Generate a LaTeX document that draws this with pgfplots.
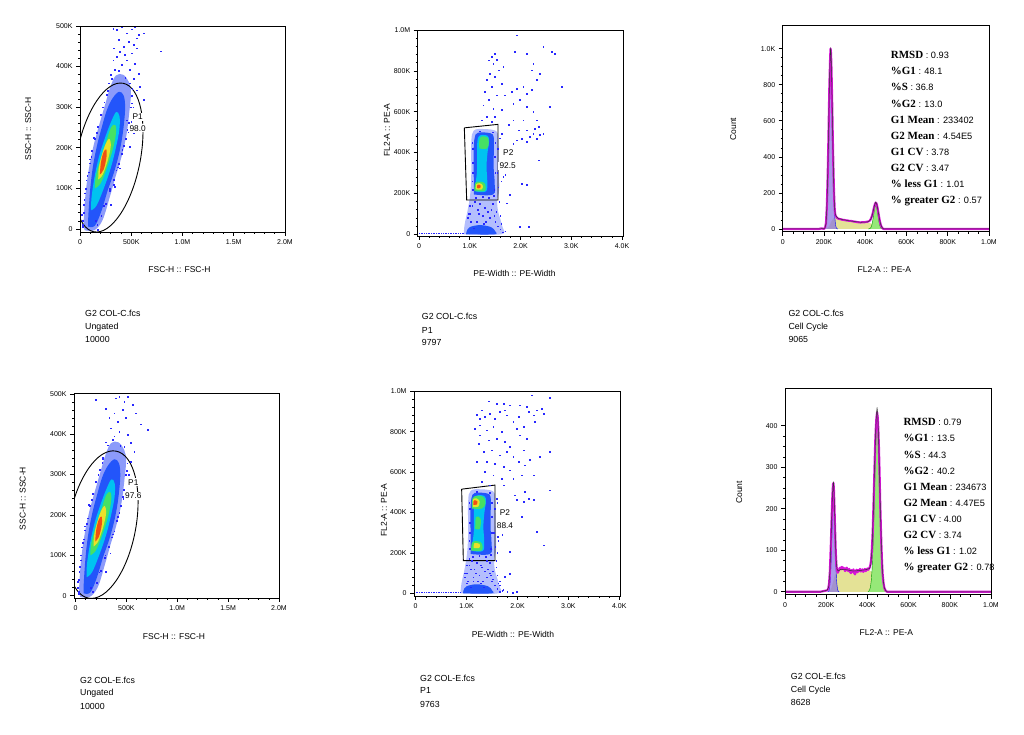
\documentclass[border=0pt]{standalone}
\usepackage{fontspec}
\setmainfont{Liberation Sans}
\newfontfamily\tnr{Liberation Serif}
\usepackage{pgfplots}
\pgfplotsset{compat=1.18}
\usepackage{pgfplotstable}

\definecolor{jsp}{RGB}{140,155,250}
\definecolor{jsq}{RGB}{180,190,253}
\definecolor{jb}{RGB}{35,85,250}
\definecolor{jcy}{RGB}{0,195,240}
\definecolor{jgr}{RGB}{70,225,100}
\definecolor{jye}{RGB}{235,225,40}
\definecolor{jre}{RGB}{240,80,20}
\definecolor{jdot}{RGB}{40,40,255}
\definecolor{hmag}{RGB}{215,20,215}
\definecolor{hg1}{RGB}{140,120,225}
\definecolor{hs}{RGB}{228,226,150}
\definecolor{hg2}{RGB}{150,232,120}

\pgfplotsset{
 fj/.style={scale only axis, anchor=south west, axis line style={line width=0.8pt, black},
  tick align=outside, tick pos=left, major tick length=4pt, minor tick length=2pt,
  tick style={black, line width=0.6pt},
  ticklabel style={font=\fontsize{7}{8}\selectfont},
  scaled ticks=false, axis on top},
 lay/.style={draw=none, fill=#1, smooth, tension=0.6, forget plot},
 dots/.style={only marks, mark=square*, mark size=0.38pt, jdot, forget plot},
}
\newcommand{\st}[4]{\node[anchor=base west,inner sep=0pt,font=\fontsize{9.2}{10}\selectfont] at (#1pt,#2pt) {{\tnr\bfseries\fontsize{11}{12}\selectfont #3} : #4};}
\newcommand{\tx}[3]{\node[anchor=base west,inner sep=0pt,font=\fontsize{8.8}{10}\selectfont] at (#1pt,#2pt) {#3};}
\newcommand{\xl}[3]{\node[anchor=base,inner sep=0pt,font=\fontsize{8.5}{10}\selectfont] at (#1pt,#2pt) {#3};}
\newcommand{\yl}[3]{\node[rotate=90,anchor=center,inner sep=0pt,font=\fontsize{8.5}{10}\selectfont] at (#1pt,#2pt) {#3};}
\newcommand{\pl}[3]{\node[anchor=center,fill=white,inner sep=1.2pt,font=\fontsize{8.3}{9}\selectfont] at (#1pt,#2pt) {#3};}

\begin{document}
% ---------------- FSC/SSC density layers (K units) ----------------
\pgfplotstableread{
x y
45 -3
140 -3
220 22
292 80
348 130
402 175
452 230
482 290
497 335
477 362
420 380
350 378
296 350
240 302
186 255
132 205
88 150
60 100
42 50
36 15
45 -3
}\sA
\pgfplotstableread{
x y
80 6
145 8
210 45
270 95
326 135
376 180
408 220
430 262
440 300
427 328
382 338
318 322
262 293
212 250
170 210
130 160
104 110
88 60
80 25
80 6
}\sB
\pgfplotstableread{
x y
110 46
162 58
232 100
300 150
350 200
384 245
385 278
352 288
300 262
246 226
194 186
152 142
124 100
110 70
110 46
}\sC
\pgfplotstableread{
x y
145 100
200 112
262 150
320 196
350 234
344 256
303 250
256 216
210 180
170 146
150 122
145 100
}\sD
\pgfplotstableread{
x y
178 122
222 134
272 170
300 204
286 222
248 208
206 176
182 148
178 122
}\sE
\pgfplotstableread{
x y
194 134
230 146
258 176
256 196
228 188
203 162
194 134
}\sF
\pgfplotstableread{
x y
325 494
358 490
407 497
455 482
504 492
537 497
553 470
521 453
569 478
618 482
472 461
423 449
390 437
358 424
325 416
504 433
553 445
455 416
407 404
488 392
537 408
342 392
309 371
521 371
569 383
586 351
791 438
277 359
374 466
439 429
332 445
488 359
553 342
618 318
455 268
521 236
488 203
25 20
35 60
60 120
92 172
132 225
232 58
292 100
352 145
412 195
462 245
505 310
510 345
440 372
380 390
300 380
270 340
170 -2
30 5
500 265
390 150
330 110
}\oA
\pgfplotstableread{
x y
30 10
34 40
40 72
52 100
70 132
92 162
116 192
140 222
170 252
202 282
236 312
270 342
168 10
206 32
248 62
288 95
328 122
366 152
406 186
446 222
474 262
494 300
508 328
20 35
48 88
84 140
110 178
160 238
224 300
262 330
300 60
340 105
380 160
430 205
470 240
520 300
150 20
}\eA
\pgfplotstableread{
x y
202 485
397 489
429 493
478 481
511 493
462 460
381 452
332 440
413 431
495 440
592 452
641 425
712 411
348 415
429 406
511 398
543 378
364 386
316 373
478 369
576 357
543 332
299 464
560 473
25 20
35 60
60 120
92 172
132 225
232 58
292 100
352 145
412 195
462 245
505 310
300 380
270 340
380 395
440 372
30 5
}\oD
% ---------------- PE-Width / PE-A layers ----------------
\pgfplotstableread{
x y
880 0
1620 0
1640 40
1560 110
1540 170
1580 220
1570 360
1560 470
1520 505
1300 515
1080 508
1030 450
1030 300
1010 200
960 120
900 50
880 0
}\pA
\pgfplotstableread{
x y
930 0
1480 0
1500 15
1420 35
1200 45
1000 35
940 15
930 0
}\pD
\pgfplotstableread{
x y
1080 195
1460 195
1490 250
1470 330
1475 420
1470 478
1400 495
1160 497
1095 470
1075 400
1078 300
1080 195
}\pB
\pgfplotstableread{
x y
1115 210
1320 210
1345 260
1330 330
1350 400
1380 455
1350 482
1200 484
1150 455
1145 380
1140 300
1115 250
1115 210
}\pC
\pgfplotstableread{
x y
1190 420
1340 420
1375 450
1345 475
1220 478
1185 452
1190 420
}\pGu
\pgfplotstableread{
x y
1090 212
1290 212
1305 245
1220 258
1110 252
1090 212
}\pGl
\pgfplotstableread{
x y
1120 220
1240 220
1255 240
1200 250
1125 245
1120 220
}\pYl
\pgfplotstableread{
x y
1145 226
1205 226
1210 240
1150 242
1145 226
}\pRl
\pgfplotstableread{
x y
1110 420
1300 420
1370 445
1330 478
1150 480
1105 455
1110 420
}\qGu
\pgfplotstableread{
x y
1170 320
1260 320
1275 370
1185 378
1170 320
}\qGm
\pgfplotstableread{
x y
1125 428
1230 430
1255 455
1200 470
1130 465
1125 428
}\qYu
\pgfplotstableread{
x y
1135 438
1200 440
1212 456
1160 462
1135 455
1135 438
}\qRu
\pgfplotstableread{
x y
1140 225
1250 225
1255 245
1150 248
1140 225
}\qYl
\pgfplotstableread{
x y
1924 975
1497 885
1432 869
1530 856
1366 852
1464 836
1661 820
1563 803
1399 787
1497 771
1333 755
1629 738
1432 722
1300 698
1530 681
1366 657
1267 632
1464 616
1629 608
1333 575
1235 559
1432 551
1497 575
1694 681
1826 698
1924 714
2055 722
2121 690
2220 706
1990 657
1858 641
2121 624
2252 600
2055 559
2318 559
1858 559
1957 510
2121 510
2252 494
2384 486
2449 494
2187 477
2318 469
2023 469
1924 461
2121 453
1858 445
2285 518
2351 526
1891 893
2121 885
2252 836
2384 787
2449 917
2614 893
2679 885
2811 722
2220 803
2318 755
2581 624
2351 363
2023 249
2121 241
1793 192
1727 152
1990 37
2154 37
1661 282
1629 494
1760 535
}\uB
\pgfplotstableread{
x y
1000 100
1050 140
1100 160
1150 120
1200 150
1250 90
1300 130
1350 110
1400 80
1450 150
1500 60
1550 40
1600 25
1650 10
1020 60
1080 30
1700 15
1120 180
1380 180
1250 185
1180 100
1320 60
1420 120
1520 110
1470 190
1560 230
1540 300
1550 420
1060 300
1050 450
1620 260
1700 290
1580 160
1610 350
1590 470
960 80
1130 60
1280 50
1480 90
1060 220
1050 260
1060 350
1065 420
1480 220
1500 300
1490 380
1500 450
1450 500
1200 505
1000 140
970 100
1600 90
1620 50
}\cB
\pgfplotstableread{
x y
2279 981
2639 968
1427 951
1722 940
1853 932
2181 923
1198 886
1296 907
1362 874
1460 891
1558 866
1657 899
1755 907
1788 882
1918 849
2017 874
2213 899
2311 882
2377 907
2475 916
2508 891
2344 849
1263 833
1395 808
1525 824
1689 800
1984 816
2115 824
1263 783
1427 758
1591 767
1755 750
1853 725
2050 783
1231 742
1329 701
1493 709
1657 684
1788 701
1918 676
2115 709
1395 651
1558 643
1722 627
1853 610
2017 651
2148 635
2246 660
1198 651
1362 602
1525 585
1689 569
1918 569
2082 585
2311 585
2639 701
2639 511
1296 552
1460 536
1722 536
1951 486
1984 462
2148 503
2213 470
2311 462
2115 453
2508 239
2377 305
2082 379
1853 206
1853 99
1755 82
1984 8
1657 41
1263 866
1165 816
2181 767
2443 676
1591 940
2050 932
1000 50
1080 120
1130 80
1220 60
1280 140
1340 30
1400 160
1460 100
1520 70
1580 130
1650 60
1720 20
1800 10
1900 5
1050 170
1600 200
1610 280
1620 330
1600 450
}\uE
% ---------------- histograms ----------------
\pgfplotstableread{
x y
0 0
175 0
182 2
190 3
197 1
202 2
206 10
210 35
214 125
218 290
222 520
226 780
230 950
232 1000
234 975
236 900
238 800
240 680
242 550
244 430
246 320
248 230
250 160
252 110
254 85
257 72
262 63
268 58
275 55
282 54
290 51
298 50
306 48
314 47
322 45
330 45
338 43
346 41
354 40
362 38
370 37
378 36
386 38
394 37
402 39
410 40
416 42
422 46
427 55
432 70
437 90
441 112
445 130
448 141
451 146
454 143
457 132
460 115
463 95
466 75
469 55
472 38
475 25
478 15
482 7
486 2
490 0
1000 0
}\hCd
\pgfplotstableread{
x y
0 0
180 0
190 2
200 2
205 6
210 30
214 120
218 285
222 515
226 780
230 955
232 1005
234 980
236 905
238 800
240 680
242 550
244 425
246 315
248 225
250 155
252 108
255 82
260 68
270 58
290 52
320 46
350 41
380 37
410 39
420 44
428 56
434 76
440 106
445 132
451 150
457 134
463 96
469 56
475 25
481 9
487 2
492 0
1000 0
}\hCm
\pgfplotstableread{
x y
196 0
200 1
204 6
208 23
212 73
214 119
216 184
218 272
220 381
222 506
224 639
226 765
228 870
230 940
232 965
234 940
236 870
238 765
240 639
242 506
244 381
246 272
248 184
250 119
252 73
256 23
260 6
264 1
268 0
}\hCa
\pgfplotstableread{
x y
212 0
225 15
235 40
245 58
255 62
265 58
280 53
300 49
325 45
350 40
374 36
395 36
414 35
430 30
445 20
455 12
465 5
475 1
485 0
}\hCs
\pgfplotstableread{
x y
415 0
419 1
423 3
427 7
431 18
435 37
439 64
443 96
447 122
451 132
455 122
459 96
463 64
467 37
471 18
475 7
479 3
483 1
487 0
}\hCb
\pgfplotstableread{
x y
0 0
170 0
180 1
190 2
200 3
206 4
210 8
214 20
218 50
222 105
226 170
230 230
233 258
235 262
237 250
240 205
243 150
246 100
249 68
252 52
256 46
260 50
264 56
268 58
272 54
276 60
280 55
284 58
288 54
292 50
296 56
300 58
304 52
308 50
312 55
316 48
320 45
324 52
328 48
332 54
336 45
340 42
344 50
348 53
352 47
356 52
360 50
364 55
368 49
372 51
376 54
380 48
384 52
388 55
392 50
396 53
400 56
404 53
408 56
412 60
415 66
418 76
422 104
426 148
430 215
434 290
438 360
441 395
444 420
447 432
450 420
453 390
456 345
459 285
462 215
465 160
468 110
471 70
474 42
478 22
482 10
487 4
492 1
497 0
1000 0
}\hEd
\pgfplotstableread{
x y
0 0
175 0
190 2
205 4
212 12
218 48
224 135
229 215
233 255
235 265
237 252
240 210
244 135
248 78
252 55
258 50
270 54
300 53
330 50
360 51
390 53
410 56
416 64
422 100
428 180
434 290
440 385
444 430
447 444
450 428
454 375
458 300
462 220
466 145
470 85
474 45
478 22
483 8
490 2
497 0
1000 0
}\hEm
\pgfplotstableread{
x y
207 0
211 1
214 4
217 13
220 30
223 63
226 110
229 163
232 208
235 225
238 208
241 163
244 110
247 63
250 30
253 13
256 4
259 1
263 0
}\hEa
\pgfplotstableread{
x y
215 0
226 10
234 25
242 40
250 48
258 50
270 53
290 53
310 52
330 50
350 50
370 51
390 52
410 52
420 48
430 40
440 30
450 20
460 10
470 4
480 0
}\hEs
\pgfplotstableread{
x y
403 0
407 2
411 5
415 12
419 28
423 57
427 105
431 173
435 255
439 336
443 397
447 420
451 397
455 336
459 255
463 173
467 105
471 57
475 28
479 12
483 5
487 2
491 0
}\hEb
\begin{tikzpicture}
\path[use as bounding box] (0,0) rectangle (1024pt,735pt);

% ===== P1 =====
\begin{axis}[fj, at={(80pt,503pt)}, width=205pt, height=206pt,
  xmin=0, xmax=2000, ymin=-7.4, ymax=500,
  xtick={0,500,1000,1500,2000}, xticklabels={0,500K,1.0M,1.5M,2.0M},
  ytick={0,100,200,300,400,500}, yticklabels={0,100K,200K,300K,400K,500K},
  minor tick num=4]
\addplot[lay=jsp] table {\sA};
\addplot[lay=jb] table {\sB};
\addplot[lay=jcy] table {\sC};
\addplot[lay=jgr] table {\sD};
\addplot[lay=jye] table {\sE};
\addplot[lay=jre] table {\sF};
\addplot[dots] table {\oA};
\addplot[dots] table {\eA};
\draw[line width=0.9pt] (axis cs:278,176) circle[x radius=75.7pt, y radius=31.8pt, rotate=78.8];
\end{axis}

% ===== P4 =====
\begin{axis}[fj, at={(74pt,137pt)}, width=205pt, height=205pt,
  xmin=-15, xmax=2000, ymin=-5.7, ymax=502,
  xtick={0,500,1000,1500,2000}, xticklabels={0,500K,1.0M,1.5M,2.0M},
  ytick={0,100,200,300,400,500}, yticklabels={0,100K,200K,300K,400K,500K},
  minor tick num=4]
\addplot[lay=jsp] table {\sA};
\addplot[lay=jb] table {\sB};
\addplot[lay=jcy] table {\sC};
\addplot[lay=jgr] table {\sD};
\addplot[lay=jye] table {\sE};
\addplot[lay=jre] table {\sF};
\addplot[dots] table {\oD};
\addplot[dots] table {\eA};
\draw[line width=0.9pt] (axis cs:263,176) circle[x radius=74.8pt, y radius=33.6pt, rotate=79.4];
\end{axis}

% ===== P2 =====
\begin{axis}[fj, at={(417.7pt,499pt)}, width=205.3pt, height=206pt,
  xmin=-26, xmax=4020, ymin=-8.3, ymax=1000,
  xtick={0,1000,2000,3000,4000}, xticklabels={0,1.0K,2.0K,3.0K,4.0K},
  ytick={0,200,400,600,800,1000}, yticklabels={0,200K,400K,600K,800K,1.0M},
  minor tick num=4]
\addplot[lay=jsq] table {\pA};
\addplot[lay=jb] table {\pD};
\addplot[jdot, densely dotted, line width=0.7pt, forget plot] coordinates {(0,3) (900,3)};
\addplot[lay=jb] table {\pB};
\addplot[lay=jcy] table {\pC};
\addplot[lay=jgr] table {\pGu};
\addplot[lay=jgr] table {\pGl};
\addplot[lay=jye] table {\pYl};
\addplot[lay=jre] table {\pRl};
\addplot[dots] table {\uB};
\addplot[dots] table {\cB};
\addplot[black, line width=0.9pt, sharp plot, forget plot] coordinates {(893,521) (1556,538) (1556,168) (939,168) (893,521)};
\end{axis}

% ===== P5 =====
\begin{axis}[fj, at={(414pt,139pt)}, width=206pt, height=205pt,
  xmin=-33, xmax=4014, ymin=-13, ymax=1002,
  xtick={0,1000,2000,3000,4000}, xticklabels={0,1.0K,2.0K,3.0K,4.0K},
  ytick={0,200,400,600,800,1000}, yticklabels={0,200K,400K,600K,800K,1.0M},
  minor tick num=4]
\addplot[lay=jsq] table {\pA};
\addplot[lay=jb] table {\pD};
\addplot[jdot, densely dotted, line width=0.7pt, forget plot] coordinates {(0,3) (900,3)};
\addplot[lay=jb] table {\pB};
\addplot[lay=jcy] table {\pC};
\addplot[lay=jgr] table {\qGu};
\addplot[lay=jgr] table {\qGm};
\addplot[lay=jgr] table {\pGl};
\addplot[lay=jye] table {\qYu};
\addplot[lay=jre] table {\qRu};
\addplot[lay=jye] table {\qYl};
\addplot[dots] table {\uE};
\addplot[dots] table {\cB};
\addplot[black, line width=0.9pt, sharp plot, forget plot] coordinates {(903,516) (1558,536) (1558,162) (936,162) (903,516)};
\end{axis}

% ===== P3 =====
\begin{axis}[fj, at={(782.7pt,503.3pt)}, width=206.3pt, height=206pt,
  xmin=0, xmax=1000, ymin=-15, ymax=1127,
  xtick={0,200,400,600,800,1000}, xticklabels={0,200K,400K,600K,800K,1.0M},
  ytick={0,200,400,600,800,1000}, yticklabels={0,200,400,600,800,1.0K},
  minor tick num=3]
\addplot[fill=hs, draw=none, forget plot] table {\hCs};
\addplot[fill=hg1, fill opacity=0.75, draw=blue, line width=0.4pt, forget plot] table {\hCa};
\addplot[fill=hg2, draw=green!60!black, line width=0.4pt, forget plot] table {\hCb};
\addplot[hmag, line width=2.2pt, line join=round, forget plot] table {\hCd};
\addplot[black!80, line width=0.5pt, line join=round, forget plot] table {\hCm};
\end{axis}

% ===== P6 =====
\begin{axis}[fj, at={(785pt,140.3pt)}, width=206pt, height=206.4pt,
  xmin=0, xmax=1000, ymin=-7, ymax=490,
  xtick={0,200,400,600,800,1000}, xticklabels={0,200K,400K,600K,800K,1.0M},
  ytick={0,100,200,300,400}, yticklabels={0,100,200,300,400},
  minor tick num=3]
\addplot[fill=hs, draw=none, forget plot] table {\hEs};
\addplot[fill=hg1, fill opacity=0.75, draw=blue, line width=0.4pt, forget plot] table {\hEa};
\addplot[fill=hg2, draw=green!60!black, line width=0.4pt, forget plot] table {\hEb};
\addplot[hmag, line width=2.2pt, line join=round, forget plot] table {\hEd};
\addplot[black!80, line width=0.5pt, line join=round, forget plot] table {\hEm};
\end{axis}

% ===== gate labels =====
\pl{137.7}{618.3}{P1}
\pl{137.7}{606.7}{98.0}
\pl{133.3}{252.7}{P1}
\pl{133.3}{239}{97.6}
\pl{508.3}{582.3}{P2}
\pl{507.7}{569.3}{92.5}
\pl{505}{222.7}{P2}
\pl{505}{209.3}{88.4}

% ===== axis labels =====
\xl{179.5}{462.7}{FSC-H :: FSC-H}
\xl{514.5}{458}{PE-Width :: PE-Width}
\xl{884.3}{462.7}{FL2-A :: PE-A}
\xl{174}{95.3}{FSC-H :: FSC-H}
\xl{513}{97.7}{PE-Width :: PE-Width}
\xl{886.3}{99.3}{FL2-A :: PE-A}
\yl{28.3}{606}{SSC-H :: SSC-H}
\yl{22.7}{236.5}{SSC-H :: SSC-H}
\yl{387}{605}{FL2-A :: PE-A}
\yl{384}{225}{FL2-A :: PE-A}
\yl{733.3}{606}{Count}
\yl{739.3}{242.5}{Count}

% ===== sample info =====
\tx{85}{418.5}{G2 COL-C.fcs}
\tx{85}{405.8}{Ungated}
\tx{85}{392.5}{10000}
\tx{421.7}{415.1}{G2 COL-C.fcs}
\tx{421.7}{401.8}{P1}
\tx{421.7}{389.1}{9797}
\tx{788.3}{418.5}{G2 COL-C.fcs}
\tx{788.3}{405.8}{Cell Cycle}
\tx{788.3}{392.8}{9065}
\tx{80}{51.8}{G2 COL-E.fcs}
\tx{80}{39.1}{Ungated}
\tx{80}{25.8}{10000}
\tx{420}{53.5}{G2 COL-E.fcs}
\tx{420}{41.1}{P1}
\tx{420}{27.8}{9763}
\tx{790.7}{55.1}{G2 COL-E.fcs}
\tx{790.7}{42.5}{Cell Cycle}
\tx{790.7}{29.5}{8628}

% ===== statistics =====
\st{890.7}{676.4}{RMSD}{0.93}
\st{890.7}{660.25}{\%G1}{48.1}
\st{890.7}{644.1}{\%S}{36.8}
\st{890.7}{627.95}{\%G2}{13.0}
\st{890.7}{611.8}{G1 Mean}{233402}
\st{890.7}{595.65}{G2 Mean}{4.54E5}
\st{890.7}{579.5}{G1 CV}{3.78}
\st{890.7}{563.35}{G2 CV}{3.47}
\st{890.7}{547.2}{\% less G1}{1.01}
\st{890.7}{531.05}{\% greater G2}{0.57}
\st{903.3}{309.1}{RMSD}{0.79}
\st{903.3}{293.0}{\%G1}{13.5}
\st{903.3}{276.9}{\%S}{44.3}
\st{903.3}{260.9}{\%G2}{40.2}
\st{903.3}{244.8}{G1 Mean}{234673}
\st{903.3}{228.7}{G2 Mean}{4.47E5}
\st{903.3}{212.6}{G1 CV}{4.00}
\st{903.3}{196.5}{G2 CV}{3.74}
\st{903.3}{180.5}{\% less G1}{1.02}
\st{903.3}{164.4}{\% greater G2}{0.78}
\end{tikzpicture}
\end{document}
